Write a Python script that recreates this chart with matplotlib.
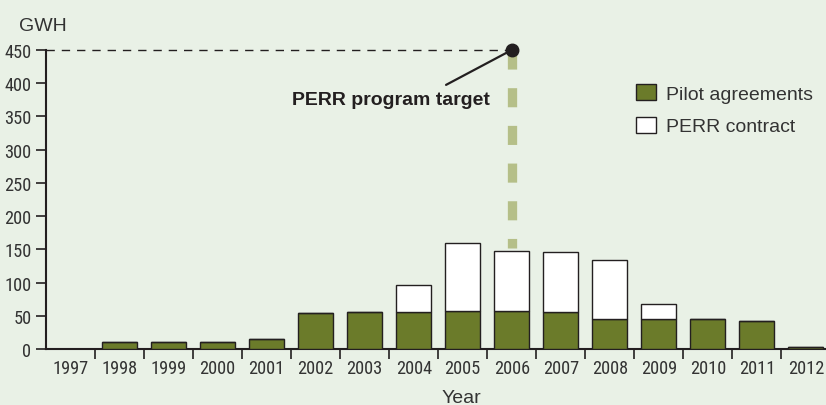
import matplotlib
matplotlib.use("Agg")
import os
import matplotlib.pyplot as plt
from matplotlib import font_manager
from matplotlib.font_manager import FontProperties
from matplotlib.patches import Patch

years = ["1997", "1998", "1999", "2000", "2001", "2002", "2003", "2004",
         "2005", "2006", "2007", "2008", "2009", "2010", "2011", "2012"]
pilot_agreements = [0.5, 11, 11, 11, 15, 54, 56, 56, 57, 57, 56, 45, 45, 45, 42, 3]
perr_contract = [0, 0, 0, 0, 0, 0, 0, 40, 103, 90, 90, 89, 22, 0, 0, 0]
y_ticks = [0, 50, 100, 150, 200, 250, 300, 350, 400, 450]
target_year = "2006"
target_value = 450
target_line_bottom = 152

# find a condensed font for tick labels
files = [f.fname for f in font_manager.fontManager.ttflist]
cands = [("LiberationSansNarrow-Regular", 13), ("RobotoCondensed-Regular", 13.2),
         ("OpenSans_Condensed-Regular", 12.5), ("OpenSansCondensed-Regular", 12.5),
         ("DejaVuSansCondensed.ttf", 11.5)]
tick_fp = None
for key, sz in cands:
    hit = [f for f in files if key in os.path.basename(f)]
    if hit:
        tick_fp = FontProperties(fname=hit[0], size=sz)
        break
if tick_fp is None:
    tick_fp = FontProperties(family="DejaVu Sans", stretch="condensed", size=11)

names = {f.name for f in font_manager.fontManager.ttflist}
main_font = "Liberation Sans" if "Liberation Sans" in names else "DejaVu Sans"

BG = "#e9f1e6"
GREEN = "#6b7b2a"
DARK = "#231f20"
TXT = "#333333"
TARGET_GREEN = "#b5bf88"

fig = plt.figure(figsize=(8.26, 4.06), dpi=100, facecolor=BG)
ax = fig.add_axes([46 / 826, 1 - 350 / 406, 1 - 46 / 826, (350 - 51) / 406])
ax.set_facecolor(BG)

x = list(range(len(years)))
ti = years.index(target_year)

# target dashed green line (behind bars)
ax.plot([ti, ti], [target_value, target_line_bottom], color=TARGET_GREEN, lw=6.7,
        dashes=(2.05, 2.0), dash_capstyle="butt", zorder=1, clip_on=False)
# horizontal black dashed line
ax.plot([-0.5, ti], [target_value, target_value], color=DARK, lw=1.0,
        dashes=(6, 5), zorder=2, clip_on=False)

w = 0.714
ax.bar(x, pilot_agreements, width=w, color=GREEN, edgecolor=DARK, linewidth=1.0,
       zorder=3, label="Pilot agreements")
ax.bar(x, perr_contract, width=w, bottom=pilot_agreements, color="white",
       edgecolor=DARK, linewidth=1.0, zorder=3, label="PERR contract")

ax.plot([ti], [target_value], "o", color=DARK, ms=9, zorder=5, clip_on=False)
ax.annotate("", xy=(ti, target_value), xytext=(7.66, 397.5),
            arrowprops=dict(arrowstyle="-", color=DARK, lw=1.6, shrinkA=0, shrinkB=0),
            annotation_clip=False)
ax.text(8.55, 375, "PERR program target", ha="right", va="center",
        fontsize=14, fontweight="bold", color=DARK, family=main_font)

ax.set_xlim(-0.5, 15.41)
ax.set_ylim(0, 450)

for s in ["top", "right"]:
    ax.spines[s].set_visible(False)
for s in ["left", "bottom"]:
    ax.spines[s].set_color(DARK)
    ax.spines[s].set_linewidth(1.5)

ax.set_yticks(y_ticks)
ax.set_yticklabels([str(v) for v in y_ticks], fontproperties=tick_fp, color=TXT)
ax.tick_params(axis="y", length=7, width=1.2, color=DARK, pad=3.5)

ax.set_xticks(x)
ax.set_xticklabels(years, fontproperties=tick_fp, color=TXT)
ax.tick_params(axis="x", which="major", length=0, pad=7)
ax.set_xticks([i + 0.5 for i in x[:-1]], minor=True)
ax.tick_params(axis="x", which="minor", length=7, width=1.2, color=DARK, direction="out")

fig.text(19 / 826, 1 - 31 / 406, "GWH", fontsize=14, color=TXT, family=main_font,
         ha="left", va="baseline")
fig.text(461 / 826, 1 - 403 / 406, "Year", fontsize=14, color=TXT, family=main_font,
         ha="center", va="baseline")

handles = [Patch(facecolor=GREEN, edgecolor=DARK, linewidth=1.0, label="Pilot agreements"),
           Patch(facecolor="white", edgecolor=DARK, linewidth=1.0, label="PERR contract")]
leg = fig.legend(handles=handles, loc="upper left", bbox_to_anchor=(630 / 826, 1 - 79 / 406),
                 frameon=False, prop={"family": main_font, "size": 14},
                 handlelength=1.05, handleheight=0.9, handletextpad=0.5,
                 labelspacing=0.72, borderaxespad=0, borderpad=0.3)
for t in leg.get_texts():
    t.set_color(TXT)

fig.savefig("out.png", dpi=100, facecolor=BG)
